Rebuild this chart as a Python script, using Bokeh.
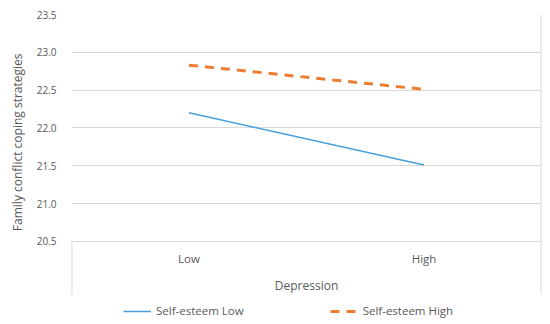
from bokeh.plotting import figure
from bokeh.models import (FactorRange, Range1d, FixedTicker, NumeralTickFormatter,
                          Legend, LegendItem, Label, Title)
from bokeh.core.properties import value
from bokeh.embed import file_html
from bokeh.resources import INLINE

categories = ["Low", "High"]
se_low = [22.20, 21.51]
se_high = [22.83, 22.51]
y_ticks = [20.5, 21.0, 21.5, 22.0, 22.5, 23.0, 23.5]
series_names = ["Self-esteem Low", "Self-esteem High"]
x_title = "Depression"
y_title = "Family conflict coping strategies"

FONT = "Open Sans"
TXT = "#595959"
GRID = "#d9d9d9"
BLUE = "#4A9FD8"
ORANGE = "#ED7D31"

p = figure(width=542, height=322, output_backend="svg", toolbar_location=None,
           x_range=FactorRange(factors=categories, range_padding=0),
           y_range=Range1d(19.426, 23.5),
           x_axis_location=None,
           min_border_left=71, min_border_right=1, min_border_top=14, min_border_bottom=0)
p.outline_line_color = None
p.xgrid.visible = False
p.ygrid.ticker = FixedTicker(ticks=y_ticks)
p.ygrid.grid_line_color = GRID
p.ygrid.grid_line_width = 1

ax = p.yaxis[0]
ax.ticker = FixedTicker(ticks=y_ticks)
ax.formatter = NumeralTickFormatter(format="0.0")
ax.axis_line_color = None
ax.major_tick_line_color = None
ax.minor_tick_line_color = None
ax.major_tick_out = 0
ax.major_tick_in = 0
ax.major_label_standoff = 15
ax.major_label_text_font = FONT
ax.major_label_text_font_size = "10px"
ax.major_label_text_color = TXT

# frame-edge lines of the category area
p.segment(x0=[0], y0=[19.80], x1=[0], y1=[y_ticks[0]], line_color=GRID, line_width=2)
p.segment(x0=[2], y0=[19.80], x1=[2], y1=[y_ticks[-1]], line_color=GRID, line_width=2)

r1 = p.line(categories, se_low, line_color=BLUE, line_width=1.5)
r2 = p.line(categories, se_high, line_color=ORANGE, line_width=3, line_dash="9 7")

p.text(x=categories, y=[y_ticks[0]] * len(categories), text=categories,
       y_offset=17, text_align="center", text_baseline="middle",
       text_font=value(FONT), text_font_size="11.5px", text_color=TXT)

p.add_layout(Label(x=235, y=37, x_units="screen", y_units="screen", text=x_title,
                   text_align="center", text_baseline="middle", text_font=FONT,
                   text_font_size="12px", text_color=TXT))

ytitle = Title(text=y_title, align="right", offset=39, standoff=12,
               vertical_align="top",
               text_font=FONT, text_font_size="12px", text_font_style="normal",
               text_color=TXT)
p.add_layout(ytitle, "left")

legend = Legend(items=[LegendItem(label=series_names[0], renderers=[r1]),
                       LegendItem(label=series_names[1], renderers=[r2])],
                location=(52, 4), orientation="horizontal",
                glyph_width=28, glyph_height=14, label_standoff=5, spacing=86,
                padding=0, margin=0, border_line_color=None,
                background_fill_alpha=0,
                label_text_font=FONT, label_text_font_size="11.5px",
                label_text_color=TXT)
p.add_layout(legend)

open("out.html", "w").write(file_html(p, INLINE))
